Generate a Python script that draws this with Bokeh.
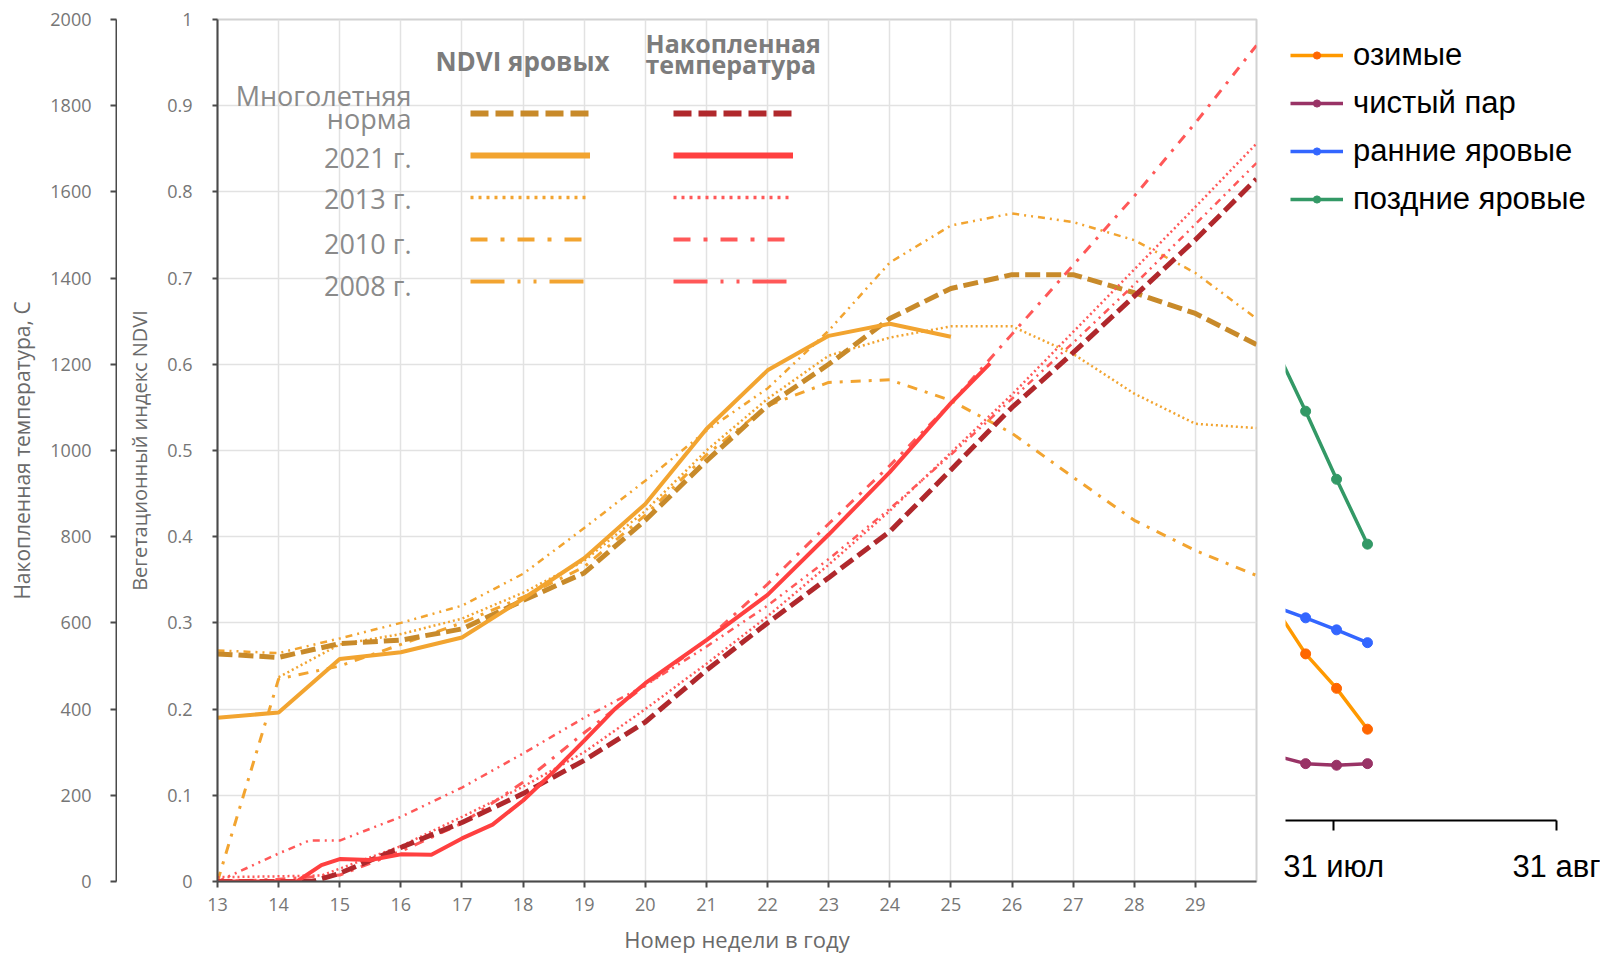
from bokeh.plotting import figure
from bokeh.models import Range1d, FixedTicker, Legend, LegendItem, Label
from bokeh.layouts import row
from bokeh.embed import file_html
from bokeh.resources import INLINE
from bokeh.core.properties import value

# ---------------- data ----------------
weeks = [13, 14, 15, 16, 17, 18, 19, 20, 21, 22, 23, 24, 25, 26, 27, 28, 29, 30]
week_ticks = [13, 14, 15, 16, 17, 18, 19, 20, 21, 22, 23, 24, 25, 26, 27, 28, 29]

# NDVI of spring crops
ndvi_norm = [0.264, 0.260, 0.276, 0.280, 0.293, 0.326, 0.358, 0.419, 0.488, 0.552,
             0.600, 0.653, 0.688, 0.704, 0.704, 0.683, 0.659, 0.623]
weeks_2021 = [13, 14, 15, 16, 17, 18, 19, 20, 21, 22, 23, 24, 25]
ndvi_2021 = [0.190, 0.196, 0.258, 0.266, 0.283, 0.328, 0.375, 0.438, 0.525, 0.593,
             0.633, 0.647, 0.632]
weeks_2013 = [14, 15, 16, 17, 18, 19, 20, 21, 22, 23, 24, 25, 26, 27, 28, 29, 30]
ndvi_2013 = [0.237, 0.275, 0.287, 0.305, 0.335, 0.372, 0.430, 0.500, 0.560, 0.610,
             0.631, 0.644, 0.644, 0.612, 0.566, 0.531, 0.526]
ndvi_2010 = [0.0, 0.235, 0.250, 0.275, 0.300, 0.330, 0.365, 0.425, 0.495, 0.552,
             0.579, 0.582, 0.558, 0.520, 0.469, 0.419, 0.384, 0.355]
ndvi_2008 = [0.268, 0.265, 0.282, 0.300, 0.320, 0.357, 0.410, 0.465, 0.523, 0.572,
             0.639, 0.718, 0.761, 0.775, 0.765, 0.744, 0.706, 0.653]

# accumulated temperature
temp_norm_x = [13, 14, 14.55, 15, 16, 17, 18, 19, 20, 21, 22, 23, 24, 25, 26, 27, 28, 29, 30]
temp_norm = [0, 0, 0, 19, 79, 137, 204, 281, 370, 490, 600, 705, 812, 955, 1100, 1227,
             1358, 1489, 1630]
temp_2021_x = [13, 14, 14.3, 14.7, 15, 15.5, 16, 16.5, 17, 17.5, 18, 18.5, 19, 19.5, 20,
               21, 22, 23, 24, 25, 25.64]
temp_2021 = [0, 0, 0, 38, 52, 50, 63, 62, 100, 132, 188, 255, 327, 400, 460, 560, 665,
             805, 950, 1110, 1202]
temp_2013_x = [13, 14, 14.7, 15, 16, 17, 18, 19, 20, 21, 22, 23, 24, 25, 26, 27, 28, 29, 30]
temp_2013 = [10, 12, 14, 30, 82, 150, 220, 300, 400, 505, 615, 735, 860, 995, 1130, 1275,
             1420, 1565, 1712]
temp_2010 = [0, 5, 15, 70, 135, 230, 345, 455, 560, 690, 830, 965, 1110, 1270, 1430, 1590,
             1760, 1940]
temp_2008_x = [13, 14, 14.5, 15, 16, 17, 18, 19, 20, 21, 22, 23, 24, 25, 26, 27, 28, 29, 30]
temp_2008 = [0, 65, 95, 95, 150, 218, 297, 380, 455, 545, 640, 748, 865, 990, 1120, 1250,
             1385, 1525, 1667]

ndvi_ticks = [0, 0.1, 0.2, 0.3, 0.4, 0.5, 0.6, 0.7, 0.8, 0.9, 1]
ndvi_tick_labels = ["0", "0.1", "0.2", "0.3", "0.4", "0.5", "0.6", "0.7", "0.8", "0.9", "1"]
temp_ticks = [0, 200, 400, 600, 800, 1000, 1200, 1400, 1600, 1800, 2000]

legend_rows = ["2021 г.", "2013 г.", "2010 г.", "2008 г."]

# right fragment (days relative to 31 July)
right_days = [-8.2, -3.9, 0.4, 4.7]
ozimye = [0.267, 0.208, 0.165, 0.114]
chisty_par = [0.081, 0.071, 0.069, 0.071]
rannie_yarovye = [0.267, 0.253, 0.238, 0.222]
pozdnie_yarovye = [0.592, 0.511, 0.426, 0.345]
right_ticks = [0, 31]
right_tick_labels = ["31 июл", "31 авг"]

# ---------------- styles ----------------
FONT = "Open Sans"
TICK_C = "#767676"
AX_C = "#4a4a4a"
GRID_C = "#e2e2e2"
OR_NORM = "#C88A2A"
OR = "#F2A430"
RD_NORM = "#B0282C"
RD = "#FF4040"
RD2 = "#FF5858"


def style_y_axis(ax, ticks, tick_out, standoff, label, label_size, label_standoff):
    ax.ticker = FixedTicker(ticks=ticks)
    ax.axis_line_color = AX_C
    ax.axis_line_width = 2
    ax.major_tick_line_color = AX_C
    ax.major_tick_line_width = 2
    ax.major_tick_out = tick_out
    ax.major_tick_in = 0
    ax.minor_tick_line_color = None
    ax.major_label_text_font = FONT
    ax.major_label_text_font_size = "18px"
    ax.major_label_text_color = TICK_C
    ax.major_label_standoff = standoff
    ax.axis_label = label
    ax.axis_label_text_font = FONT
    ax.axis_label_text_font_size = label_size
    ax.axis_label_text_font_style = "normal"
    ax.axis_label_text_color = "#6a6a6a"
    ax.axis_label_standoff = label_standoff


# ---------------- temperature axis figure ----------------
p_t = figure(frame_width=1, frame_height=862, x_range=Range1d(0, 1),
             y_range=Range1d(0, 2000), min_border_left=116, min_border_right=0,
             min_border_top=19, min_border_bottom=65, toolbar_location=None,
             output_backend="svg")
p_t.xaxis.visible = False
p_t.grid.visible = False
p_t.outline_line_color = None
style_y_axis(p_t.yaxis[0], temp_ticks, 6, 19, "Накопленная температура, С", "21px", 11)

# ---------------- main figure ----------------
p = figure(frame_width=1039, frame_height=862, x_range=Range1d(13, 30),
           y_range=Range1d(0, 1), min_border_left=100, min_border_right=5,
           min_border_top=19, min_border_bottom=65, toolbar_location=None,
           output_backend="svg")
p.extra_y_ranges = {"temp": Range1d(0, 2000)}
p.outline_line_color = "#d2d2d2"
p.outline_line_width = 2

yax = p.yaxis[0]
style_y_axis(yax, ndvi_ticks, 5, 20, "Вегетационный индекс NDVI", "20px", 11)
yax.major_label_overrides = dict(zip(ndvi_ticks, ndvi_tick_labels))

xax = p.xaxis[0]
xax.ticker = FixedTicker(ticks=week_ticks)
xax.axis_line_color = AX_C
xax.axis_line_width = 2
xax.major_tick_line_color = AX_C
xax.major_tick_line_width = 2
xax.major_tick_out = 6
xax.major_tick_in = 0
xax.minor_tick_line_color = None
xax.major_label_text_font = FONT
xax.major_label_text_font_size = "18px"
xax.major_label_text_color = TICK_C
xax.major_label_standoff = 10
xax.axis_label = "Номер недели в году"
xax.axis_label_text_font = FONT
xax.axis_label_text_font_size = "22px"
xax.axis_label_text_font_style = "normal"
xax.axis_label_text_color = "#6a6a6a"
xax.axis_label_standoff = 10

p.xgrid.grid_line_color = GRID_C
p.xgrid.grid_line_width = 1.5
p.ygrid.grid_line_color = GRID_C
p.ygrid.grid_line_width = 1.5

# (x, y, colour, chart style, legend style)
DASH_N, DOT, DDOT, DDDOT = "15 6", "2 3", "10 8 3 8", "7 5 2 5 2 5"
ndvi_series = [
    (weeks, ndvi_norm, OR_NORM, (5, DASH_N), (6, "18 7")),
    (weeks_2021, ndvi_2021, OR, (4, "solid"), (6, "solid")),
    (weeks_2013, ndvi_2013, OR, (2.5, DOT), (3.5, "3 5")),
    (weeks, ndvi_2010, OR, (3, DDOT), (4, "17 13 4 13")),
    (weeks, ndvi_2008, OR, (2.5, DDDOT), (4, "34 13 3 13 3 13")),
]
temp_series = [
    (temp_norm_x, temp_norm, RD_NORM, (5, DASH_N), (6, "18 7")),
    (temp_2021_x, temp_2021, RD, (4, "solid"), (6, "solid")),
    (temp_2013_x, temp_2013, RD2, (2.5, DOT), (3.5, "3 5")),
    (weeks, temp_2010, RD2, (3, DDOT), (4, "17 13 4 13")),
    (temp_2008_x, temp_2008, RD2, (2.5, DDDOT), (4, "34 13 3 13 3 13")),
]

draw_order = [4, 2, 3, 0, 1]


def draw(series, range_name, legend_loc):
    for i in draw_order:
        x, y, c, (w, d), _ = series[i]
        p.line(x, y, y_range_name=range_name, line_color=c, line_width=w, line_dash=d)
    items = []
    for x, y, c, _, (w, d) in series:
        # hidden copy of the series, drawn only as the legend sample
        r = p.line(x, y, y_range_name=range_name, line_color=c, line_width=w,
                   line_dash=d, visible=False)
        items.append(LegendItem(label=value(" "), renderers=[r]))
    lg = Legend(items=items, location=legend_loc, glyph_width=120, glyph_height=20,
                label_height=20, spacing=22, label_text_font_size="6px",
                label_standoff=0, padding=0, margin=0, border_line_color=None,
                background_fill_alpha=0)
    p.add_layout(lg, "center")


draw(ndvi_series, "default", (253, 590))
draw(temp_series, "temp", (456, 590))

LBL_C = "#8a8a8a"
row_label_x = 16.174
row_y = [0.8399, 0.7923, 0.7401, 0.6914]
for txt, y in [("Многолетняя", 0.9115), ("норма", 0.8848)] + list(zip(legend_rows, row_y)):
    p.add_layout(Label(x=row_label_x, y=y, text=txt, text_align="right",
                       text_baseline="middle", text_font=FONT, text_font_size="27px",
                       text_color=LBL_C))
p.add_layout(Label(x=17.99, y=0.9516, text="NDVI яровых", text_align="center",
                   text_baseline="middle", text_font=FONT, text_font_size="26px",
                   text_font_style="bold", text_color="#7c7c7c"))
for txt, y in [("Накопленная", 0.9732), ("температура", 0.9486)]:
    p.add_layout(Label(x=20.003, y=y, text=txt, text_align="left",
                       text_baseline="middle", text_font=FONT, text_font_size="25px",
                       text_font_style="bold", text_color="#7c7c7c"))

# ---------------- right fragment ----------------
p_r = figure(frame_width=315, frame_height=801, x_range=Range1d(-6.7, 37.1),
             y_range=Range1d(0, 1), min_border_left=24, min_border_right=0,
             min_border_top=19, min_border_bottom=126, toolbar_location=None,
             output_backend="svg")
p_r.yaxis.visible = False
p_r.grid.visible = False
p_r.outline_line_color = None
rx = p_r.xaxis[0]
rx.bounds = (-6.7, 31)
rx.ticker = FixedTicker(ticks=right_ticks)
rx.major_label_overrides = dict(zip(right_ticks, right_tick_labels))
rx.axis_line_color = "black"
rx.axis_line_width = 2
rx.major_tick_line_color = "black"
rx.major_tick_line_width = 2
rx.major_tick_out = 10
rx.major_tick_in = 0
rx.minor_tick_line_color = None
rx.major_label_text_font = "Liberation Sans"
rx.major_label_text_font_size = "31px"
rx.major_label_text_color = "black"
rx.major_label_standoff = 18

series = [("озимые", ozimye, "#FF9900", "#FF6600"),
          ("чистый пар", chisty_par, "#993366", "#993366"),
          ("ранние яровые", rannie_yarovye, "#3366FF", "#3366FF"),
          ("поздние яровые", pozdnie_yarovye, "#339966", "#339966")]
items = []
for name, vals, lc, mc in series:
    l = p_r.line(right_days, vals, line_color=lc, line_width=3.5)
    s = p_r.scatter(right_days, vals, size=10, fill_color=mc, line_color=mc)
    items.append(LegendItem(label=value(name), renderers=[l, s]))
leg = Legend(items=items, location=(5, 603), glyph_width=53, glyph_height=18,
             label_standoff=10, label_text_font="Liberation Sans",
             label_text_font_size="31px", label_text_color="black", spacing=12,
             padding=0, margin=0, border_line_color=None, background_fill_alpha=0)
p_r.add_layout(leg, "center")

layout = row(p_t, p, p_r)
open("out.html", "w").write(file_html(layout, INLINE))
